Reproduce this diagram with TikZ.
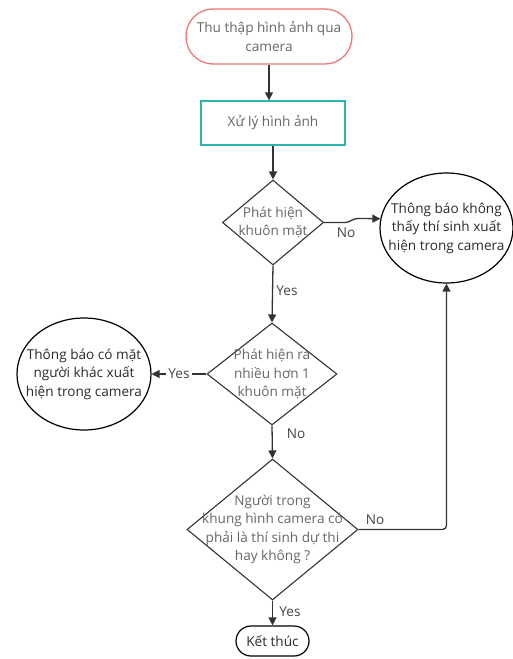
\documentclass[tikz,border=0pt]{standalone}
\usepackage{fontspec}
\setmainfont{Open Sans}
\usetikzlibrary{shapes.geometric,arrows.meta}
\definecolor{startred}{HTML}{F07777}
\definecolor{teal1}{HTML}{2BB5B0}
\definecolor{txtgray}{HTML}{666666}
\definecolor{txtdark}{HTML}{2A2A2A}
\definecolor{lblgray}{HTML}{444444}
\definecolor{linegray}{HTML}{333333}
\begin{document}
\begin{tikzpicture}[x=1pt,y=-1pt,
  every node/.style={font=\fontsize{13.6}{18.5}\selectfont, align=center},
  startbox/.style={draw=startred, line width=1.3pt, rounded corners=27pt, minimum width=166pt, minimum height=55pt, text=txtgray, inner sep=0pt},
  procbox/.style={draw=teal1, line width=1.3pt, minimum width=144pt, minimum height=44pt, text=txtgray, inner sep=0pt},
  dia/.style={draw=linegray, line width=1.1pt, diamond, inner sep=0pt},
  dtext/.style={text=txtgray, inner sep=0pt},
  ell/.style={draw=black, line width=1.2pt, ellipse, inner sep=0pt, text=txtdark},
  endbox/.style={draw=black, line width=1.2pt, rounded corners=15pt, minimum width=73pt, minimum height=30pt, text=txtdark, inner sep=0pt},
  lbl/.style={text=lblgray, inner sep=1pt},
  arr/.style={draw=linegray, line width=1.3pt, -{Triangle[length=8pt,width=8pt]}},
]
\useasboundingbox (0,0) rectangle (513,659);

\node[startbox] (start) at (269,36.5) {Thu thập hình ảnh qua\\camera};
\node[procbox] (proc) at (273,123) {Xử lý hình ảnh};

\node[dia, minimum width=101pt, minimum height=85pt] (d1) at (273,222.5) {};
\node[dtext] (t1) at (d1.center) {Phát hiện\\khuôn mặt};

\node[ell, minimum width=133pt, minimum height=110pt] (e1) at (446.5,228) {};
\node[inner sep=0pt, text=txtdark] (te1) at (e1.center) {Thông báo không\\thấy thí sinh xuất\\hiện trong camera};

\node[dia, minimum width=130pt, minimum height=102pt] (d2) at (272,374) {};
\node[dtext] (t2) at (d2.center) {Phát hiện ra\\nhiều hơn 1\\khuôn mặt};

\node[ell, minimum width=134pt, minimum height=112pt] (e2) at (84,374) {};
\node[inner sep=0pt, text=txtdark] (te2) at (e2.center) {Thông báo có mặt\\người khác xuất\\hiện trong camera};

\node[dia, minimum width=171pt, minimum height=141pt] (d3) at (272.5,529.5) {};
\node[dtext] (t3) at (d3.center) {Người trong\\khung hình camera có\\phải là thí sinh dự thi\\hay không ?};

\node[endbox] (end) at (272.5,641) {Kết thúc};

% connectors
\draw[arr] (start.south -| 269,0) -- (proc.north -| 269,0);
\draw[arr] (proc.south -| d1.north) -- (d1.north);

\coordinate (j1) at (345,222.5);
\coordinate (j2) at (358,218.5);
\draw[arr] (d1.east) -- (j1) .. controls (350,222.5) and (352,218.5) .. (j2) -- (e1.172);
\node[lbl] (no1) at (346,233) {No};

\draw[arr] (d1.south) -- (d2.north);
\node[lbl] (yes1) at (287,291) {Yes};

\draw[arr] (d2.west) -- node[lbl, fill=white, inner xsep=2pt] (yes2) {Yes} (e2.east);

\draw[arr] (d2.south) -- (d3.north);
\node[lbl] (no2) at (296,434) {No};

\draw[arr, rounded corners=4pt] (d3.east) -| (e1.south);
\node[lbl] (no3) at (375,520) {No};

\draw[arr] (d3.south) -- (end.north);
\node[lbl] (yes3) at (290,612) {Yes};
\end{tikzpicture}
\end{document}
